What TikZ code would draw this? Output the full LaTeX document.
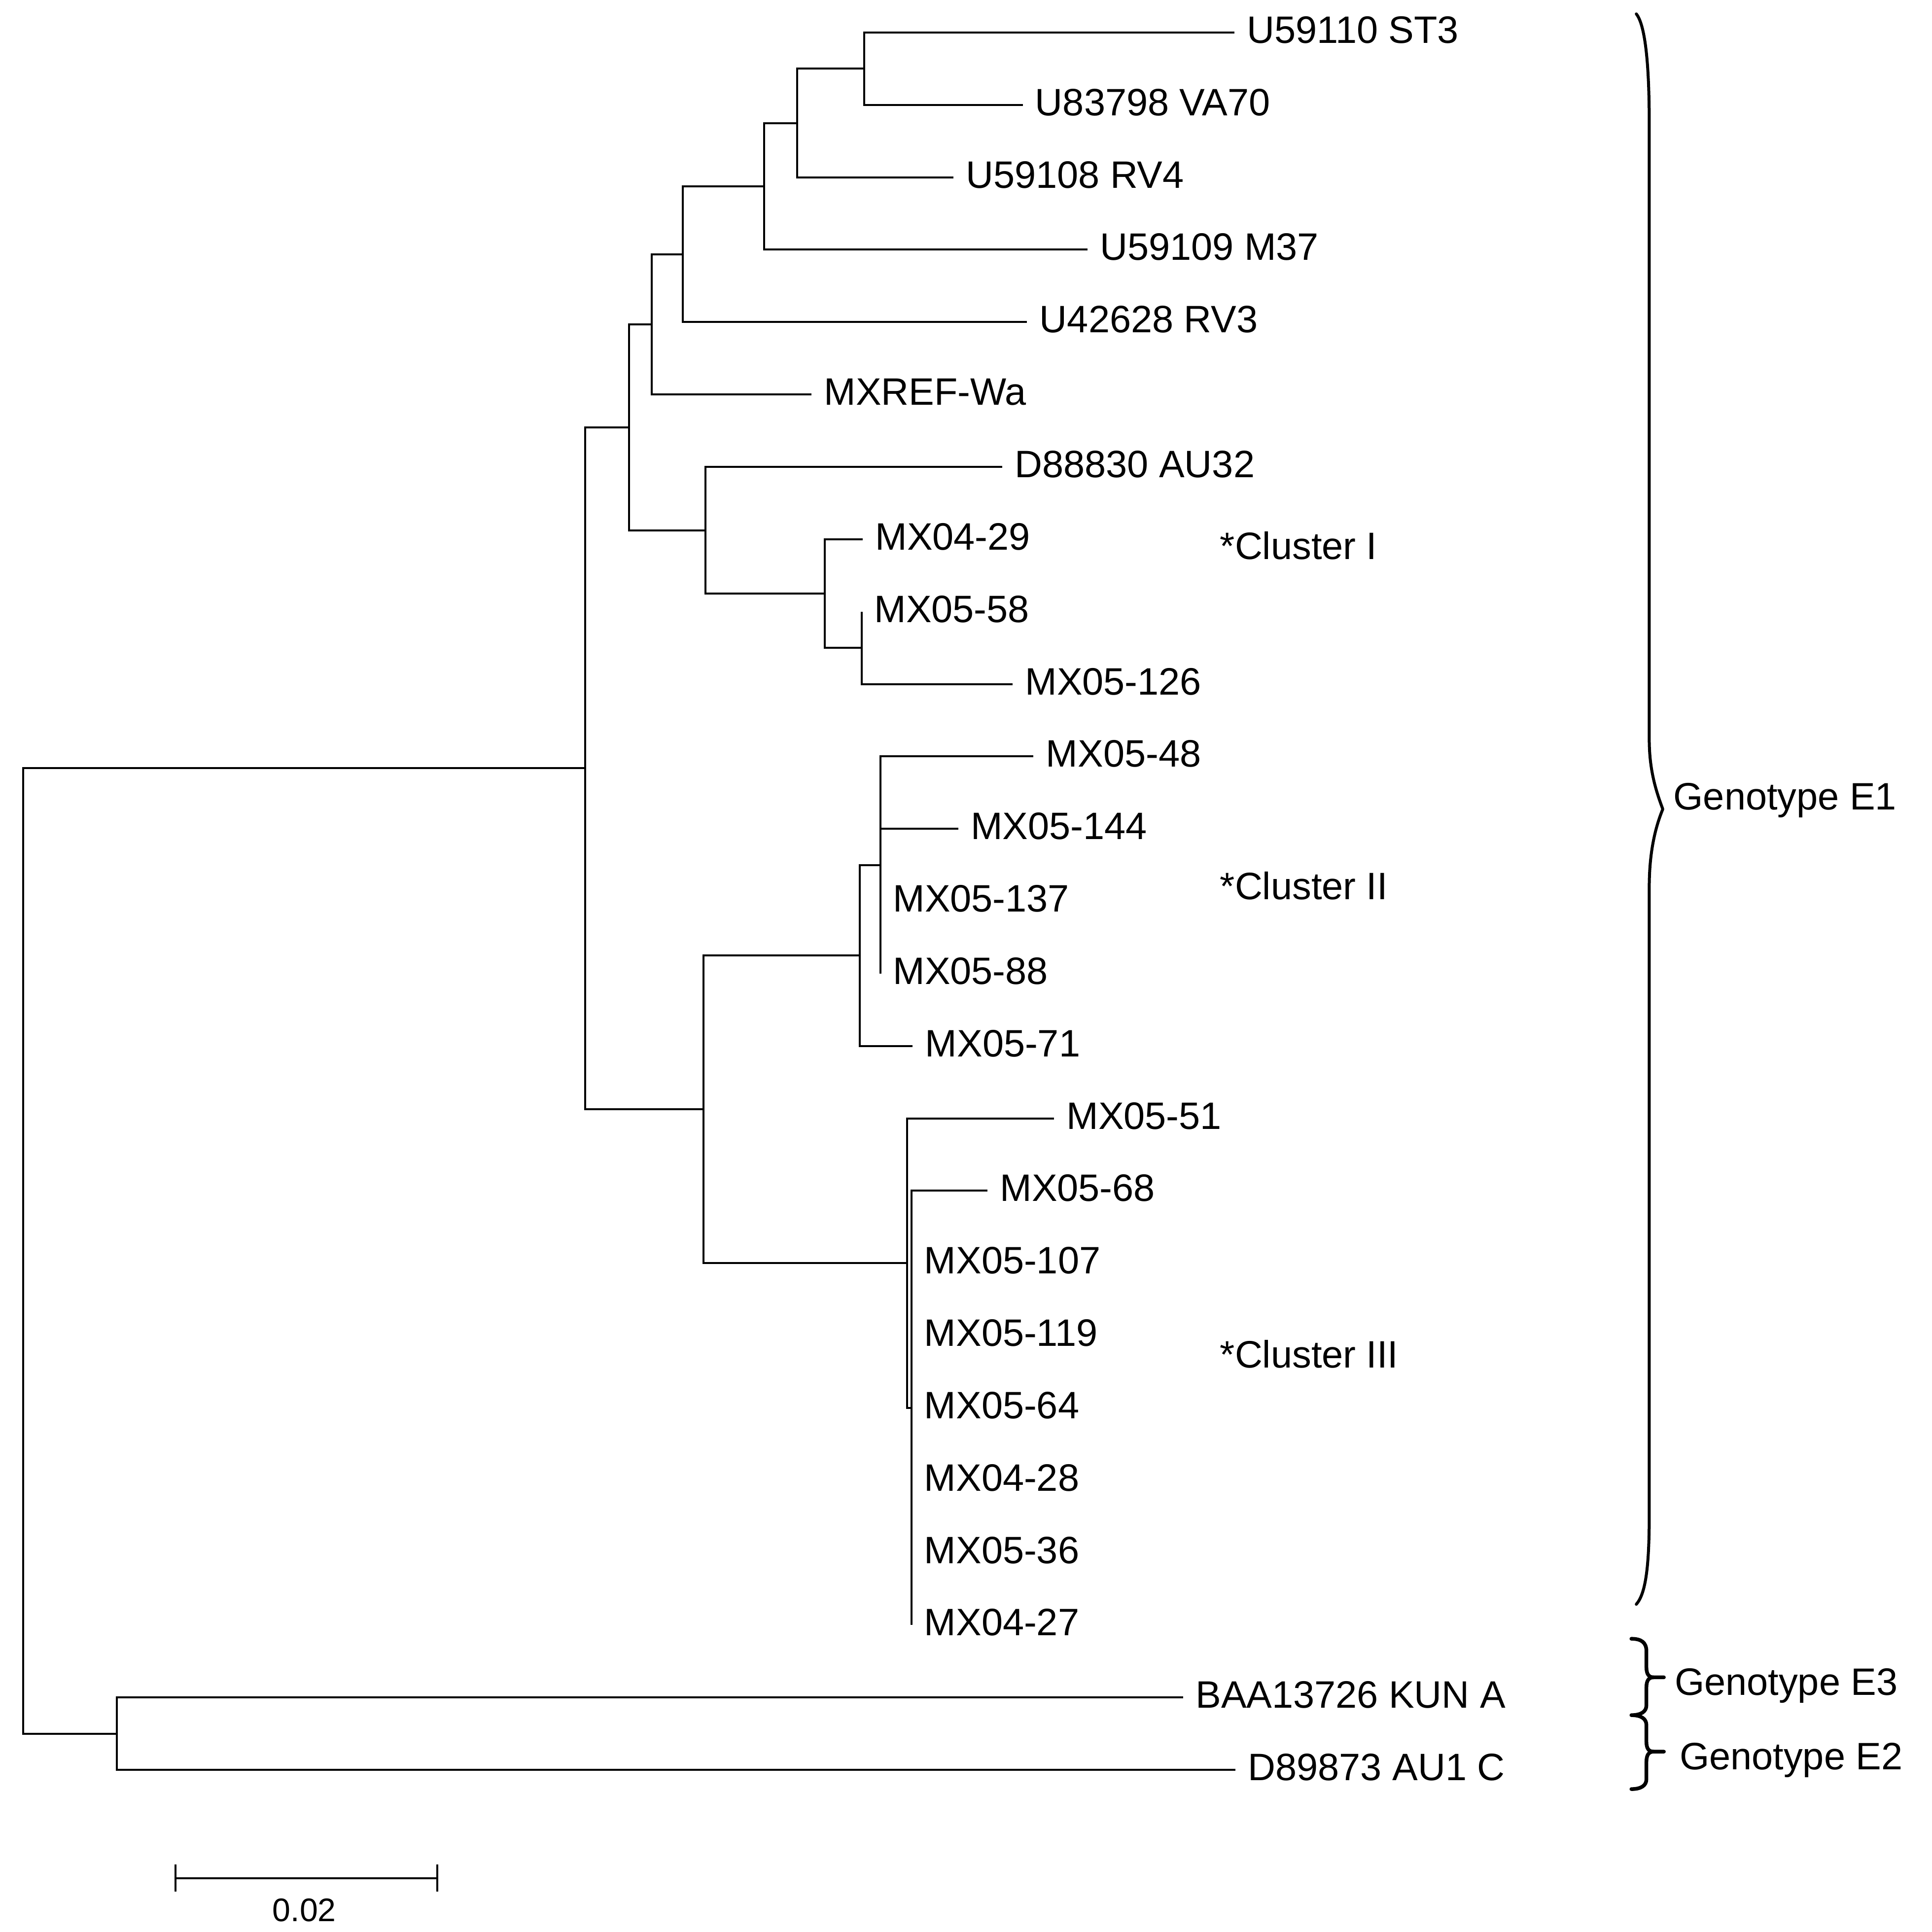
\documentclass[tikz,border=0pt]{standalone}
\usepackage{fontspec}
\setmainfont{Liberation Sans}
\begin{document}
\begin{tikzpicture}[x=1pt,y=-1pt,
  br/.style={line width=1.6pt, line join=miter},
  lab/.style={anchor=west, inner sep=0pt, text height=22.2pt, text depth=0pt,
    font=\fontsize{31}{37}\selectfont, xshift=10pt, yshift=2.5pt},
  txt/.style={anchor=west, inner sep=0pt, text height=22.2pt, text depth=0pt,
    font=\fontsize{31}{37}\selectfont},
  bracepath/.style={line width=2.4pt, line cap=round, line join=round},
  bracethick/.style={line width=3pt, line cap=round, line join=round}]
\useasboundingbox (0,0) rectangle (1568,1568);

% leaf tips
\coordinate (t0) at (1002,26.4);
\coordinate (t1) at (830,85.15);
\coordinate (t2) at (773.7,143.9);
\coordinate (t3) at (882.5,202.65);
\coordinate (t4) at (833.6,261.4);
\coordinate (t5) at (658.6,320.15);
\coordinate (t6) at (813.4,378.9);
\coordinate (t7) at (700.2,437.65);
\coordinate (t8) at (699.4,496.4);
\coordinate (t9) at (821.8,555.15);
\coordinate (t10) at (838.8,613.9);
\coordinate (t11) at (777.6,672.65);
\coordinate (t12) at (714.6,731.4);
\coordinate (t13) at (714.6,790.15);
\coordinate (t14) at (740.7,848.9);
\coordinate (t15) at (855.4,907.65);
\coordinate (t16) at (801.4,966.4);
\coordinate (t17) at (739.9,1025.15);
\coordinate (t18) at (739.9,1083.9);
\coordinate (t19) at (739.9,1142.65);
\coordinate (t20) at (739.9,1201.4);
\coordinate (t21) at (739.9,1260.15);
\coordinate (t22) at (739.9,1318.9);
\coordinate (t23) at (960.2,1377.65);
\coordinate (t24) at (1002.7,1436.4);

% internal nodes
\coordinate (A) at (701.4,55.78);
\coordinate (B) at (647,99.84);
\coordinate (C) at (620,151.24);
\coordinate (D) at (554.3,206.32);
\coordinate (E) at (528.9,263.24);
\coordinate (I) at (699.4,525.78);
\coordinate (H) at (669.3,481.71);
\coordinate (G) at (572.6,430.31);
\coordinate (F) at (510.4,346.78);
\coordinate (L) at (714.6,702.03);
\coordinate (K) at (697.8,775.46);
\coordinate (N) at (739.9,1142.65);
\coordinate (M) at (736.3,1025.15);
\coordinate (J) at (571,900.31);
\coordinate (E1) at (474.9,623.54);
\coordinate (E23) at (94.8,1407.03);
\coordinate (R) at (18.8,1015.3);

% branches
\foreach \p/\c in {A/t0,A/t1,B/A,B/t2,C/B,C/t3,D/C,D/t4,E/D,E/t5,
  I/t8,I/t9,H/t7,H/I,G/t6,G/H,F/E,F/G,
  L/t10,L/t11,L/t12,L/t13,K/L,K/t14,
  N/t16,N/t17,N/t18,N/t19,N/t20,N/t21,N/t22,M/t15,M/N,J/K,J/M,
  E1/F,E1/J,E23/t23,E23/t24,R/E1,R/E23}
  \draw[br] (\p) |- (\c);

% leaf labels
\node[lab] (l0) at (t0) {U59110 ST3};
\node[lab] (l1) at (t1) {U83798 VA70};
\node[lab] (l2) at (t2) {U59108 RV4};
\node[lab] (l3) at (t3) {U59109 M37};
\node[lab] (l4) at (t4) {U42628 RV3};
\node[lab] (l5) at (t5) {MXREF-Wa};
\node[lab] (l6) at (t6) {D88830 AU32};
\node[lab] (l7) at (t7) {MX04-29};
\node[lab] (l8) at (t8) {MX05-58};
\node[lab] (l9) at (t9) {MX05-126};
\node[lab] (l10) at (t10) {MX05-48};
\node[lab] (l11) at (t11) {MX05-144};
\node[lab] (l12) at (t12) {MX05-137};
\node[lab] (l13) at (t13) {MX05-88};
\node[lab] (l14) at (t14) {MX05-71};
\node[lab] (l15) at (t15) {MX05-51};
\node[lab] (l16) at (t16) {MX05-68};
\node[lab] (l17) at (t17) {MX05-107};
\node[lab] (l18) at (t18) {MX05-119};
\node[lab] (l19) at (t19) {MX05-64};
\node[lab] (l20) at (t20) {MX04-28};
\node[lab] (l21) at (t21) {MX05-36};
\node[lab] (l22) at (t22) {MX04-27};
\node[lab] (l23) at (t23) {BAA13726 KUN A};
\node[lab] (l24) at (t24) {D89873 AU1 C};

% cluster labels
\node[txt] (c1) at (990,443) {*Cluster I};
\node[txt] (c2) at (990,719) {*Cluster II};
\node[txt] (c3) at (990,1099) {*Cluster III};

% braces
\draw[bracepath] (1328,11.3) .. controls (1335,20) and (1338.5,50) .. (1338.5,100)
  -- (1338.5,600) .. controls (1338.5,625) and (1344,642) .. (1349.5,656.7)
  .. controls (1344,670) and (1338.5,690) .. (1338.5,720)
  -- (1338.5,1230) .. controls (1338.5,1275) and (1335,1294) .. (1328,1302);
\draw[bracethick] (1324,1330) .. controls (1332,1330) and (1336.2,1333) .. (1336.2,1340)
  -- (1336.2,1353) .. controls (1336.2,1358.5) and (1338,1361.3) .. (1342,1361.3)
  -- (1350.4,1361.3);
\draw[bracethick] (1342,1361.3) .. controls (1338,1361.3) and (1336.2,1364) .. (1336.2,1369.5)
  -- (1336.2,1384) .. controls (1336.2,1389) and (1332,1392) .. (1324,1392)
  .. controls (1332,1392) and (1336.2,1395) .. (1336.2,1400)
  -- (1336.2,1413.5) .. controls (1336.2,1419) and (1338,1421.6) .. (1342,1421.6)
  -- (1350.4,1421.6);
\draw[bracethick] (1342,1421.6) .. controls (1338,1421.6) and (1336.2,1424.5) .. (1336.2,1430)
  -- (1336.2,1444) .. controls (1336.2,1449) and (1332,1452) .. (1324,1452);

% genotype labels
\node[txt] (g1) at (1358,646) {Genotype E1};
\node[txt] (g3) at (1359,1364.7) {Genotype E3};
\node[txt] (g2) at (1363,1424.9) {Genotype E2};

% scale bar
\coordinate (s1) at (142.3,1524.2);
\coordinate (s2) at (355,1524.2);
\draw[br] (s1) -- (s2);
\draw[br] (142.3,1513) -- (142.3,1535);
\draw[br] (355,1513) -- (355,1535);
\node[inner sep=0pt, text height=19pt, text depth=0pt, font=\fontsize{26.5}{30}\selectfont] (sl) at (247,1550) {0.02};
\end{tikzpicture}
\end{document}
